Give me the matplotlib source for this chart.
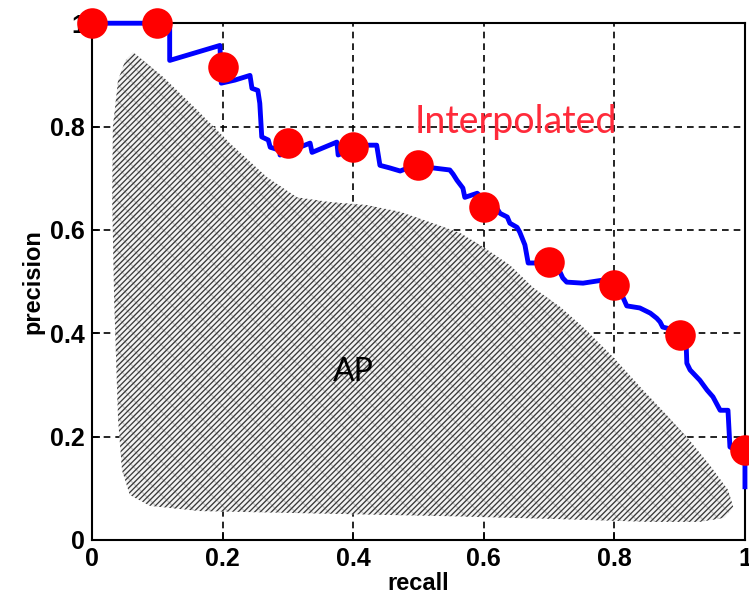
#!/usr/bin/env python3
import matplotlib
matplotlib.use('Agg')
import matplotlib.pyplot as plt
from matplotlib.patches import Polygon
import numpy as np

# interpolated precision at 11 recall levels
recall_levels = [0, 0.1, 0.2, 0.3, 0.4, 0.5, 0.6, 0.7, 0.8, 0.9, 1.0]
interp_precision = [1.0, 1.0, 0.915, 0.768, 0.760, 0.725, 0.644, 0.538, 0.493, 0.397, 0.174]

# raw precision/recall curve (sawtooth)
pr_recall = [0.0, 0.119, 0.119, 0.196, 0.198, 0.219, 0.242, 0.245, 0.254, 0.257, 0.260,
             0.270, 0.273, 0.288, 0.288, 0.334, 0.337, 0.375, 0.377, 0.410, 0.436, 0.441,
             0.456, 0.472, 0.502, 0.522, 0.548, 0.553, 0.559, 0.568, 0.571, 0.590, 0.609,
             0.620, 0.625, 0.636, 0.640, 0.651, 0.655, 0.663, 0.668, 0.701, 0.717, 0.721,
             0.727, 0.752, 0.783, 0.801, 0.809, 0.813, 0.819, 0.839, 0.855, 0.865, 0.870,
             0.874, 0.893, 0.907, 0.910, 0.911, 0.916, 0.931, 0.942, 0.951, 0.962, 0.974,
             0.977, 0.992, 1.0, 1.0]
pr_precision = [1.0, 1.0, 0.928, 0.957, 0.884, 0.890, 0.899, 0.874, 0.870, 0.845, 0.780,
                0.774, 0.760, 0.754, 0.745, 0.768, 0.750, 0.770, 0.745, 0.764, 0.764, 0.725,
                0.720, 0.714, 0.729, 0.720, 0.716, 0.708, 0.696, 0.681, 0.663, 0.671, 0.648,
                0.642, 0.632, 0.625, 0.613, 0.605, 0.596, 0.571, 0.536, 0.536, 0.518, 0.507,
                0.499, 0.497, 0.503, 0.497, 0.484, 0.470, 0.453, 0.449, 0.439, 0.429, 0.422,
                0.412, 0.406, 0.397, 0.377, 0.342, 0.329, 0.309, 0.290, 0.277, 0.251, 0.251,
                0.180, 0.170, 0.164, 0.103]

# outline of the shaded "AP" area
ap_x = [0.063, 0.109, 0.161, 0.211, 0.268, 0.314, 0.364, 0.421, 0.472, 0.522, 0.564,
        0.599, 0.640, 0.675, 0.717, 0.752, 0.798, 0.844, 0.877, 0.911, 0.946, 0.974,
        0.982, 0.969, 0.931, 0.855, 0.701, 0.548, 0.319, 0.165, 0.089, 0.058, 0.046,
        0.040, 0.034, 0.031, 0.032, 0.040, 0.051]
ap_y = [0.944, 0.896, 0.832, 0.768, 0.702, 0.663, 0.654, 0.648, 0.635, 0.613, 0.594,
        0.567, 0.532, 0.489, 0.451, 0.412, 0.354, 0.290, 0.246, 0.199, 0.145, 0.097,
        0.064, 0.043, 0.035, 0.035, 0.041, 0.046, 0.052, 0.056, 0.066, 0.087, 0.135,
        0.232, 0.464, 0.658, 0.799, 0.890, 0.928]

ticks = [0, 0.2, 0.4, 0.6, 0.8, 1]
tick_labels = ['0', '0.2', '0.4', '0.6', '0.8', '1']

plt.rcParams['font.family'] = ['Liberation Sans', 'DejaVu Sans']
plt.rcParams['hatch.linewidth'] = 0.9

fig = plt.figure(figsize=(7.49, 6.03), dpi=100)
ax = fig.add_axes([0.1228, 0.1045, 0.8718, 0.857])

ax.set_axisbelow(True)
ax.grid(True, color='black', linestyle=(0, (4, 3)), linewidth=1.2)

# faint gray cross hatch underneath, dark diagonal hatch on top
plt.rcParams['hatch.color'] = '#c4c4c4'
under = Polygon(np.column_stack([ap_x, ap_y]), closed=True, facecolor='#f2f2f2',
                hatch='xx', zorder=1.4)
ax.add_patch(under)
plt.rcParams['hatch.color'] = '#383838'
blob = Polygon(np.column_stack([ap_x, ap_y]), closed=True, facecolor='none',
               hatch='//////', zorder=1.5)
ax.add_patch(blob)

ax.plot(pr_recall, pr_precision, color='#0000ff', linewidth=3.5, zorder=3, clip_on=False)
ax.plot(recall_levels, interp_precision, 'o', color='#ff0000', markersize=22,
        markeredgewidth=0, zorder=4, clip_on=False)

ax.text(0.649, 0.808, 'Interpolated', color='#ff2a3a', fontsize=27,
        family=['Lato', 'DejaVu Sans'], ha='center', va='center')
ax.text(0.401, 0.325, 'AP', color='black', fontsize=23,
        family=['Lato', 'DejaVu Sans'], ha='center', va='center', zorder=2)

ax.set_xlim(0, 1)
ax.set_ylim(0, 1)
ax.set_xticks(ticks)
ax.set_xticklabels(tick_labels)
ax.set_yticks(ticks)
ax.set_yticklabels(tick_labels)
ax.tick_params(direction='in', length=6, width=1.2, labelsize=18, pad=5)
for lab in ax.get_xticklabels() + ax.get_yticklabels():
    lab.set_fontweight('bold')
for sp in ax.spines.values():
    sp.set_linewidth(1.5)

ax.set_xlabel('recall', fontsize=17, fontweight='bold', labelpad=1)
ax.set_ylabel('precision', fontsize=17, fontweight='bold', labelpad=4)

fig.savefig('out.png', dpi=100)
